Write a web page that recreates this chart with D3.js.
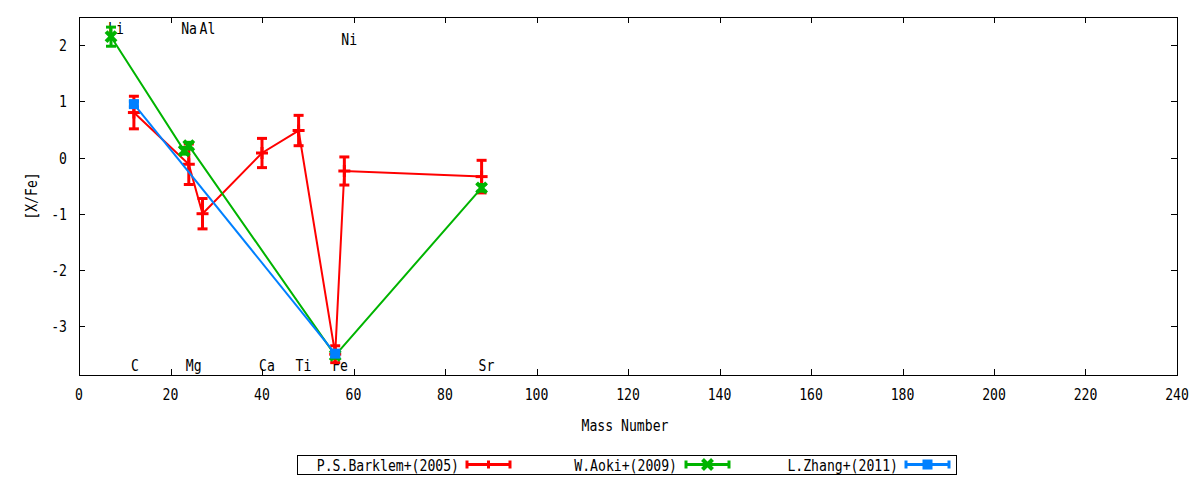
<!DOCTYPE html>
<html>
<head>
<meta charset="utf-8">
<script src="https://cdn.jsdelivr.net/npm/d3@7"></script>
<style>
  html, body { margin: 0; padding: 0; background: #fff; }
  svg text { font-family: "DejaVu Sans Mono", monospace; font-size: 15px; fill: #000; }
</style>
</head>
<body>
<svg id="chart" width="1200" height="480"></svg>
<script>
// ---- data ----
const xTicks = [0, 20, 40, 60, 80, 100, 120, 140, 160, 180, 200, 220, 240];
const yTicks = [-3, -2, -1, 0, 1, 2];

const barklemA   = [12, 24, 27, 40, 48, 56, 58, 88];
const barklemY   = [0.80, -0.12, -1.00, 0.08, 0.48, -3.50, -0.24, -0.34];
const barklemErr = [0.29, 0.36, 0.27, 0.26, 0.27, 0.15, 0.25, 0.29];

const aokiA   = [7, 23, 24, 56, 88];
const aokiY   = [2.15, 0.12, 0.21, -3.52, -0.54];
const aokiErr = [0.17, 0.06, 0.06, 0.05, 0.06];

const zhangA   = [12, 56];
const zhangY   = [0.95, -3.49];
const zhangErr = [0.05, 0.05];

const labelNames = ["Li", "C", "Na", "Mg", "Al", "Ca", "Ti", "Fe", "Ni", "Sr"];
const labelX     = [7, 12, 23, 24, 27, 40, 48, 56, 58, 88];
const labelY     = [2.3, -3.7, 2.3, -3.7, 2.3, -3.7, -3.7, -3.7, 2.1, -3.7];

const seriesNames = ["P.S.Barklem+(2005)", "W.Aoki+(2009)", "L.Zhang+(2011)"];
const seriesColors = ["#ff0000", "#00b400", "#0080ff"];

// ---- layout ----
const svg = d3.select("#chart");
const L = 79, R = 1177, T = 17, B = 375;
const x = d3.scaleLinear().domain([0, 240]).range([L, R]);
const y = d3.scaleLinear().domain([-3.87, 2.5]).range([B, T]);
const CW = 7.9; // char advance

const g = svg.append("g");
function txt(sel, s) {
  s = String(s);
  return sel.text(s).attr("textLength", s.length * CW).attr("lengthAdjust", "spacingAndGlyphs");
}

// border
g.append("rect").attr("x", L + 0.5).attr("y", T + 0.5)
  .attr("width", R - L).attr("height", B - T)
  .attr("fill", "none").attr("stroke", "#000").attr("stroke-width", 1);

const tl = 6;
xTicks.forEach(v => {
  const px = Math.round(x(v)) + 0.5;
  g.append("line").attr("x1", px).attr("x2", px).attr("y1", B).attr("y2", B - tl).attr("stroke", "#000");
  g.append("line").attr("x1", px).attr("x2", px).attr("y1", T).attr("y2", T + tl).attr("stroke", "#000");
  txt(g.append("text").attr("x", x(v)).attr("y", 400).attr("text-anchor", "middle"), v);
});
yTicks.forEach(v => {
  const py = Math.round(y(v)) + 0.5;
  g.append("line").attr("x1", L).attr("x2", L + tl).attr("y1", py).attr("y2", py).attr("stroke", "#000");
  g.append("line").attr("x1", R).attr("x2", R - tl).attr("y1", py).attr("y2", py).attr("stroke", "#000");
  txt(g.append("text").attr("x", 67).attr("y", y(v) + 6).attr("text-anchor", "end"), v);
});

// axis labels
txt(g.append("text").attr("x", 625).attr("y", 431).attr("text-anchor", "middle"), "Mass Number");
txt(g.append("text").attr("transform", "translate(37,196) rotate(-90)").attr("text-anchor", "middle"), "[X/Fe]");

// element labels
labelNames.forEach((n, i) => {
  txt(g.append("text").attr("x", x(labelX[i]) - 3).attr("y", y(labelY[i]) + 6), n);
});

// ---- series ----
const line = d3.line().x(d => x(d.a)).y(d => y(d.v));
function mk(A, Y, E) { return A.map((a, i) => ({ a: a, v: Y[i], e: E[i] })); }
const series = [mk(barklemA, barklemY, barklemErr), mk(aokiA, aokiY, aokiErr), mk(zhangA, zhangY, zhangErr)];
const markers = ["plus", "cross", "square"];

function drawMarker(sel, type, cx, cy, color) {
  if (type === "plus") {
    sel.append("line").attr("x1", cx - 6).attr("x2", cx + 6).attr("y1", cy).attr("y2", cy)
      .attr("stroke", color).attr("stroke-width", 3);
    sel.append("line").attr("x1", cx).attr("x2", cx).attr("y1", cy - 6).attr("y2", cy + 6)
      .attr("stroke", color).attr("stroke-width", 3);
  } else if (type === "cross") {
    sel.append("line").attr("x1", cx - 5).attr("x2", cx + 5).attr("y1", cy - 5).attr("y2", cy + 5)
      .attr("stroke", color).attr("stroke-width", 4);
    sel.append("line").attr("x1", cx - 5).attr("x2", cx + 5).attr("y1", cy + 5).attr("y2", cy - 5)
      .attr("stroke", color).attr("stroke-width", 4);
  } else {
    sel.append("rect").attr("x", cx - 5).attr("y", cy - 5).attr("width", 10).attr("height", 10)
      .attr("fill", color);
  }
}

series.forEach((data, si) => {
  const color = seriesColors[si];
  const sg = g.append("g");
  sg.append("path").datum(data).attr("d", line)
    .attr("fill", "none").attr("stroke", color).attr("stroke-width", 2);
  data.forEach(d => {
    const cx = x(d.a), y1 = y(d.v + d.e), y2 = y(d.v - d.e);
    sg.append("line").attr("x1", cx).attr("x2", cx).attr("y1", y1).attr("y2", y2)
      .attr("stroke", color).attr("stroke-width", 3);
    [y1, y2].forEach(yy => sg.append("line").attr("x1", cx - 5).attr("x2", cx + 5)
      .attr("y1", yy).attr("y2", yy).attr("stroke", color).attr("stroke-width", 3));
    drawMarker(sg, markers[si], cx, y(d.v), color);
  });
});

// ---- legend ----
g.append("rect").attr("x", 297.5).attr("y", 455.5).attr("width", 659).attr("height", 19)
  .attr("fill", "none").attr("stroke", "#000");
const legTextEnd = [459, 677, 898];
const legSampleStart = [467, 686, 906];
seriesNames.forEach((n, i) => {
  const color = seriesColors[i];
  const ly = 464.5;
  txt(g.append("text").attr("x", legTextEnd[i]).attr("y", ly + 6).attr("text-anchor", "end"), n);
  const s0 = legSampleStart[i], s1 = s0 + 43;
  g.append("line").attr("x1", s0).attr("x2", s1).attr("y1", ly).attr("y2", ly)
    .attr("stroke", color).attr("stroke-width", 3);
  [s0, s1].forEach(sx => g.append("line").attr("x1", sx).attr("x2", sx)
    .attr("y1", ly - 4).attr("y2", ly + 4).attr("stroke", color).attr("stroke-width", 3));
  const mx = (s0 + s1) / 2;
  if (markers[i] === "plus") {
    g.append("line").attr("x1", mx).attr("x2", mx).attr("y1", ly - 4).attr("y2", ly + 4)
      .attr("stroke", color).attr("stroke-width", 3);
  } else {
    drawMarker(g, markers[i], mx, ly, color);
  }
});
</script>
</body>
</html>
